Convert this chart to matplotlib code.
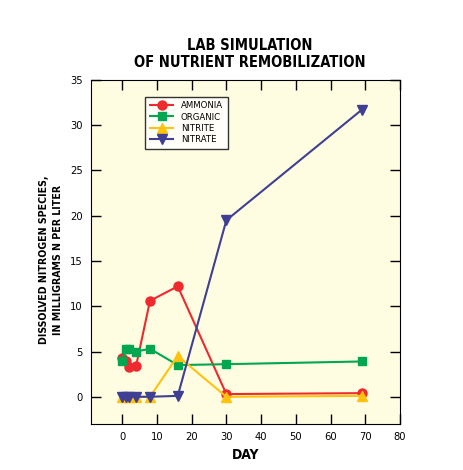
import matplotlib.pyplot as plt

# Data
day = [0, 1, 2, 4, 8, 16, 30, 69]
ammonia = [4.3, 3.9, 3.3, 3.4, 10.6, 12.2, 0.3, 0.4]
organic = [4.0, 5.3, 5.3, 5.0, 5.3, 3.5, 3.6, 3.9]
nitrite = [0.0, 0.0, 0.0, 0.0, 0.0, 4.5, 0.0, 0.1]
nitrate = [0.0, 0.0, 0.0, 0.0, 0.0, 0.1, 19.5, 31.7]

plt.rcParams["font.family"] = ["DejaVu Sans"]
plt.rcParams["font.stretch"] = "condensed"

fig = plt.figure(figsize=(4.64, 4.70), dpi=100)
ax = fig.add_axes([0.196, 0.098, 0.666, 0.732])
ax.set_facecolor("#fffde1")

ax.plot(day, ammonia, color="#ee2a2e", marker="o", ms=6.5, lw=1.5, label="AMMONIA")
ax.plot(day, organic, color="#00a650", marker="s", ms=6, lw=1.5, label="ORGANIC")
ax.plot(day, nitrite, color="#ffc20e", marker="^", ms=6.5, lw=1.5, label="NITRITE")
ax.plot(day, nitrate, color="#3f3f94", marker="v", ms=6.5, lw=1.5, label="NITRATE")

ax.set_xlim(-9, 80)
ax.set_ylim(-3, 35)
ax.set_xticks(range(0, 81, 10))
ax.set_yticks(range(0, 36, 5))
ax.tick_params(direction="in", length=7, width=1, top=True, right=True,
               labelsize=8, pad=6)

ax.set_xlabel("DAY", fontsize=10, fontweight="bold", labelpad=4)
ax.set_ylabel("DISSOLVED NITROGEN SPECIES,\nIN MILLIGRAMS N PER LITER",
              fontsize=7.6, fontweight="bold", labelpad=5, linespacing=1.45)
ax.yaxis.label.set_y(0.477)

leg = ax.legend(loc="upper left", bbox_to_anchor=(0.16, 0.965), fontsize=6.8,
                frameon=True, fancybox=False, edgecolor="black",
                handlelength=2.5, borderpad=0.5, labelspacing=0.25)
leg.get_frame().set_linewidth(1)
leg.get_frame().set_facecolor("white")

fig.text(0.538, 0.851, "LAB SIMULATION\nOF NUTRIENT REMOBILIZATION",
         ha="center", va="bottom", fontsize=10.5, fontweight="bold",
         linespacing=1.2)

fig.savefig("out.png", dpi=100)
